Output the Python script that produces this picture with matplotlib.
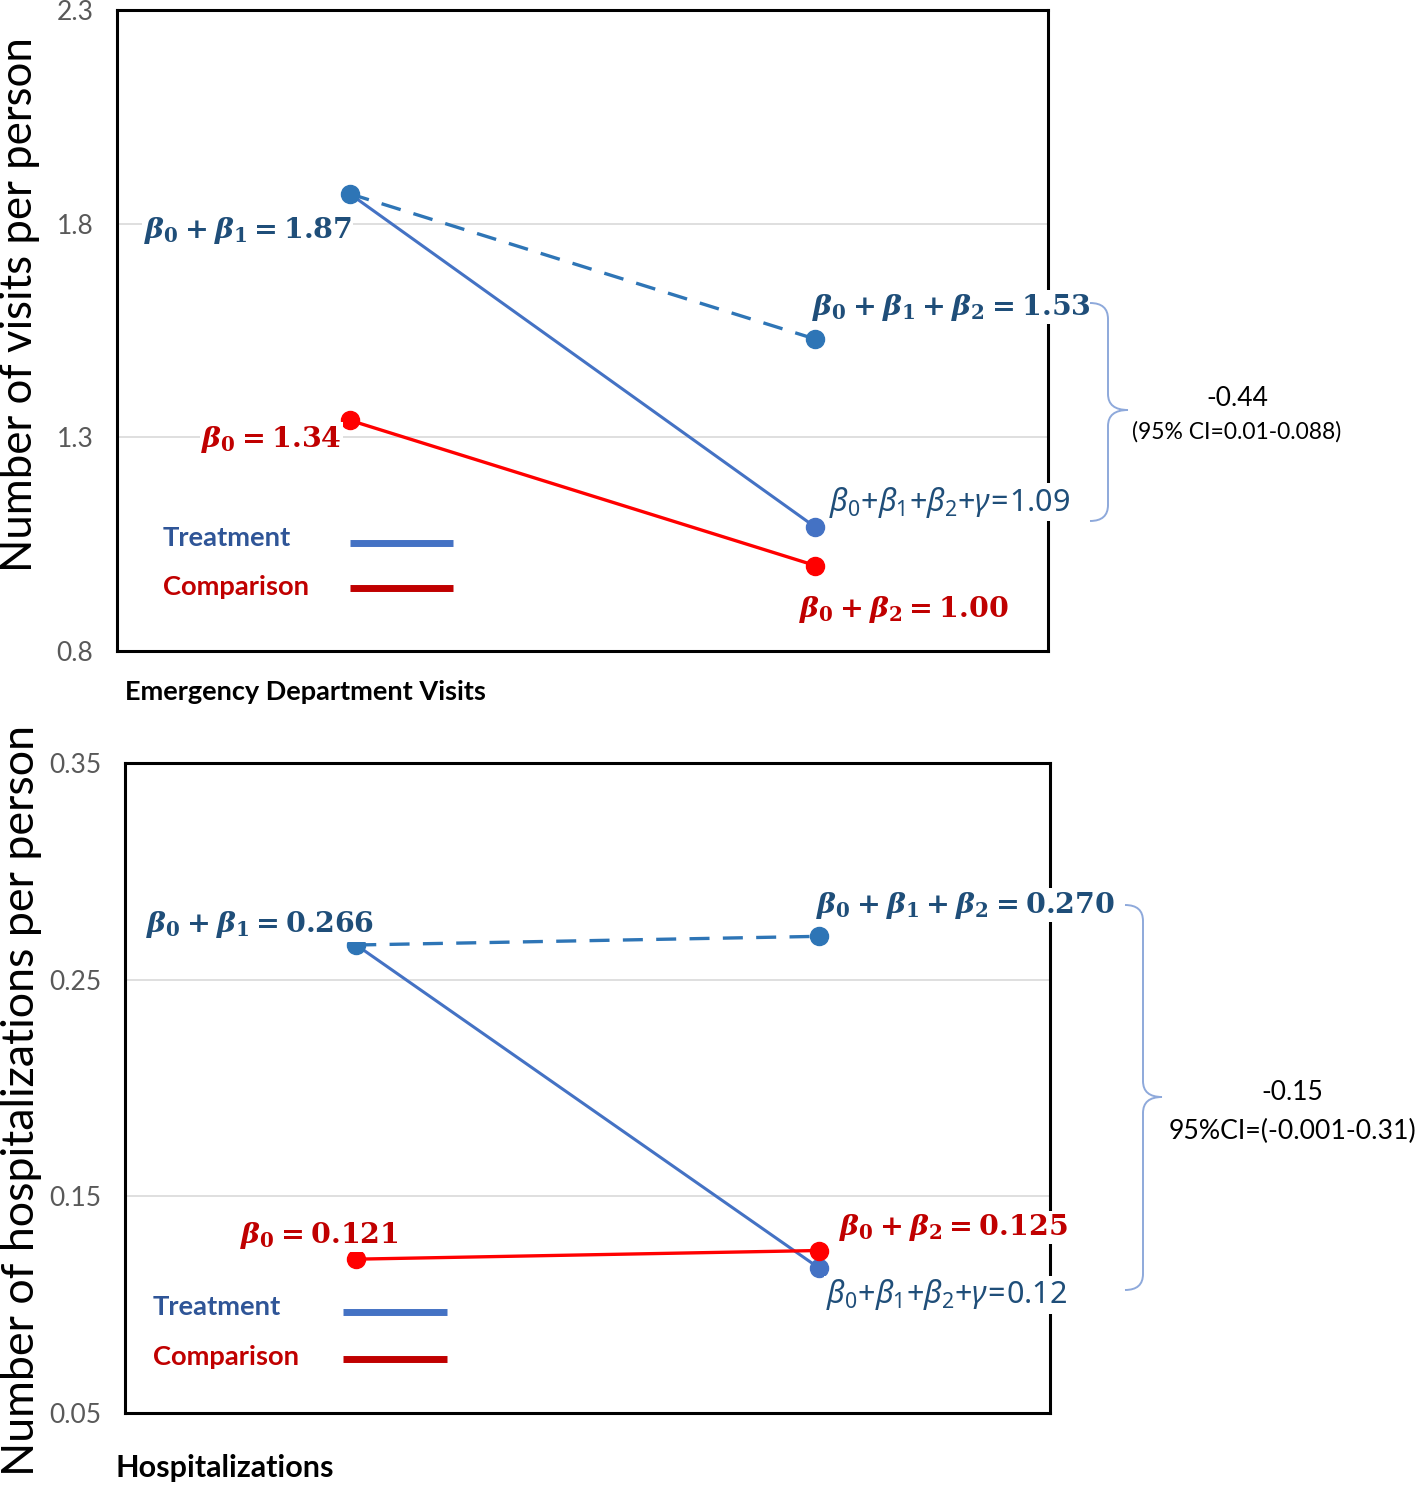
import matplotlib
matplotlib.use('Agg')
import matplotlib.pyplot as plt
from matplotlib.path import Path
from matplotlib.patches import PathPatch

plt.rcParams['font.family'] = ['Lato', 'DejaVu Sans']
# bold serif maths for the estimates, regular faces reachable via \mathsf / \mathtt
plt.rcParams['mathtext.fontset'] = 'custom'
plt.rcParams['mathtext.rm'] = 'DejaVu Serif:bold'
plt.rcParams['mathtext.it'] = 'DejaVu Serif:italic:bold'
plt.rcParams['mathtext.bf'] = 'DejaVu Serif:bold'
plt.rcParams['mathtext.sf'] = 'Noto Sans:italic'
plt.rcParams['mathtext.tt'] = 'Noto Sans'

# x positions of the two periods (pre / post)
periods = [1, 3]

# Emergency department visits
ed_treatment = [1.87, 1.09]
ed_counterfactual = [1.87, 1.53]
ed_comparison = [1.34, 1.00]
ed_ticks = [0.8, 1.3, 1.8, 2.3]
ed_effect = ['-0.44', '(95% CI=0.01-0.088)']

# Hospitalizations
hosp_treatment = [0.266, 0.117]
hosp_counterfactual = [0.266, 0.270]
hosp_comparison = [0.121, 0.125]
hosp_ticks = [0.05, 0.15, 0.25, 0.35]
hosp_effect = ['-0.15', '95%CI=(-0.001-0.31)']


def plain(value):
    # non-bold label: italic greek, upright digits, tight spacing
    return (r'$\mathsf{\beta}_\mathtt{0}\mathtt{+}\mathsf{\beta}_\mathtt{1}'
            r'\mathtt{+}\mathsf{\beta}_\mathtt{2}\mathtt{+}\mathsf{\gamma}'
            r'\!\mathtt{=}\!\mathtt{' + value + '}$')


ed_labels = [r'$\beta_0+\beta_1=1.87$',
             r'$\beta_0+\beta_1+\beta_2=1.53$',
             r'$\beta_0=1.34$',
             plain('1.09'),
             r'$\beta_0+\beta_2=1.00$']
hosp_labels = [r'$\beta_0+\beta_1=0.266$',
               r'$\beta_0+\beta_1+\beta_2=0.270$',
               r'$\beta_0=0.121$',
               plain('0.12'),
               r'$\beta_0+\beta_2=0.125$']

BLUE = '#4472C4'
BLUE_D = '#2E75B6'
TXT_BLUE = '#1F4E79'
RED = '#FF0000'
TXT_RED = '#C00000'
W, H = 1416, 1487

fig = plt.figure(figsize=(W / 100, H / 100), dpi=100)


def px(x, y):
    # image pixel (from top-left) -> figure fraction
    return x / W, 1 - y / H


def panel(rect, treat, cf, comp, ticks, labels, offsets, leg):
    ax = fig.add_axes(rect)
    ax.set_xlim(0, 4)
    ax.set_ylim(ticks[0], ticks[-1])
    ax.set_yticks(ticks)
    ax.set_yticklabels([str(t) for t in ticks])
    ax.set_xticks([])
    ax.tick_params(axis='y', length=0, pad=17, labelsize=19, labelcolor='#595959')
    ax.yaxis.grid(True, color='#D9D9D9', lw=1.2)
    ax.set_axisbelow(True)
    for s in ax.spines.values():
        s.set_linewidth(2.2)
        s.set_color('black')

    ax.plot(periods, cf, color=BLUE_D, lw=2.4, dashes=(6, 4))
    ax.plot(periods, treat, color=BLUE, lw=2.2)
    ax.plot(periods, comp, color=RED, lw=2.4)
    ax.plot(periods[1], cf[1], 'o', ms=13, color=BLUE_D)
    ax.plot(periods[1], treat[1], 'o', ms=13, color=BLUE)
    ax.plot(periods[0], treat[0], 'o', ms=13, color=BLUE_D)
    ax.plot(periods, comp, 'o', ms=13, color=RED)

    pts = [(periods[0], treat[0]), (periods[1], cf[1]), (periods[0], comp[0]),
           (periods[1], treat[1]), (periods[1], comp[1])]
    cols = [TXT_BLUE, TXT_BLUE, TXT_RED, TXT_BLUE, TXT_RED]
    sizes = [20.5, 20.5, 20.5, 22, 20.5]
    for lab, xy, (dx, dy, ha), c, fs in zip(labels, pts, offsets, cols, sizes):
        ax.annotate(lab, xy=xy, xytext=(dx, dy), textcoords='offset pixels',
                    ha=ha, va='center', fontsize=fs, color=c, zorder=5,
                    annotation_clip=False,
                    bbox=dict(facecolor='white', edgecolor='none', pad=1))

    # hand-drawn legend inside the plot
    (tx, ty1, ty2, lx0, lx1, ly1, ly2) = leg
    ax.text(tx, ty1, 'Treatment', transform=ax.transAxes, fontsize=19.7,
            fontweight='bold', color='#2F5597', va='center')
    ax.text(tx, ty2, 'Comparison', transform=ax.transAxes, fontsize=19.7,
            fontweight='bold', color=TXT_RED, va='center')
    ax.plot([lx0, lx1], [ly1, ly1], transform=ax.transAxes, color=BLUE,
            lw=5, solid_capstyle='butt')
    ax.plot([lx0, lx1], [ly2, ly2], transform=ax.transAxes, color=TXT_RED,
            lw=5, solid_capstyle='butt')
    return ax


def brace(x0, xv, xt, ytop, ymid, ybot, r=16):
    pts = [(x0, ytop), (xv, ytop), (xv, ytop + r),
           (xv, ymid - r),
           (xv, ymid), (xt, ymid),
           (xv, ymid), (xv, ymid + r),
           (xv, ybot - r),
           (xv, ybot), (x0, ybot)]
    codes = [Path.MOVETO, Path.CURVE3, Path.CURVE3, Path.LINETO,
             Path.CURVE3, Path.CURVE3, Path.CURVE3, Path.CURVE3,
             Path.LINETO, Path.CURVE3, Path.CURVE3]
    path = Path([px(*p) for p in pts], codes)
    fig.add_artist(PathPatch(path, transform=fig.transFigure, fill=False,
                             edgecolor='#8EA9DB', lw=1.4))


# top panel: Emergency Department Visits
l, b = px(117, 651)
r_, t = px(1048, 10)
panel([l, b, r_ - l, t - b], ed_treatment, ed_counterfactual, ed_comparison,
      ed_ticks, ed_labels,
      [(2, -37, 'right'), (-3, 32, 'left'), (-8, -19, 'right'),
       (14, 25, 'left'), (-16, -44, 'left')],
      (0.049, 0.176, 0.100, 0.250, 0.361, 0.168, 0.098))

# bottom panel: Hospitalizations
l, b = px(125, 1413)
r_, t = px(1050, 763)
panel([l, b, r_ - l, t - b], hosp_treatment, hosp_counterfactual, hosp_comparison,
      hosp_ticks, hosp_labels,
      [(18, 20, 'right'), (-3, 31, 'left'), (43, 24, 'right'),
       (7, -27, 'left'), (20, 23, 'left')],
      (0.030, 0.163, 0.086, 0.236, 0.348, 0.155, 0.083))

# y axis titles
fig.text(*px(20, 305), 'Number of visits per person', rotation=90,
         ha='center', va='center', fontsize=31.5)
fig.text(*px(22, 1101), 'Number of hospitalizations per person', rotation=90,
         ha='center', va='center', fontsize=32.2)

# panel captions
fig.text(*px(125, 692), 'Emergency Department Visits', ha='left', va='center',
         fontsize=19.5, fontweight='bold')
fig.text(*px(116, 1468), 'Hospitalizations', ha='left', va='center',
         fontsize=22, fontweight='bold')

# braces with effect estimates
brace(1090, 1108, 1128, 303, 410, 521)
fig.text(*px(1237, 398), ed_effect[0], ha='center', va='center', fontsize=19)
fig.text(*px(1237, 432), ed_effect[1], ha='center', va='center', fontsize=16.5)

brace(1125, 1143, 1162, 905, 1097, 1290)
fig.text(*px(1292, 1093), hosp_effect[0], ha='center', va='center', fontsize=19)
fig.text(*px(1292, 1131), hosp_effect[1], ha='center', va='center', fontsize=19.2)

fig.savefig('out.png', dpi=100)
